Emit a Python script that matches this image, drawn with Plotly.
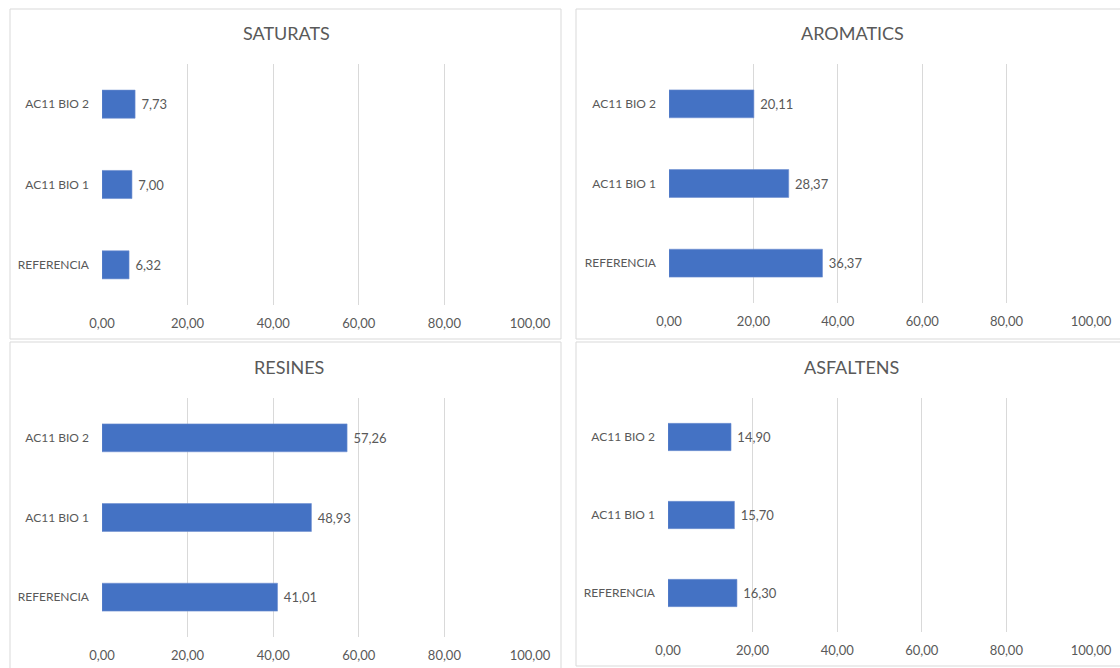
import plotly.graph_objects as go

W, H = 1120, 668

categories = ["REFERENCIA", "AC11 BIO 1", "AC11 BIO 2"]
saturats = [6.32, 7.00, 7.73]
aromatics = [36.37, 28.37, 20.11]
resines = [41.01, 48.93, 57.26]
asfaltens = [16.30, 15.70, 14.90]
tick_vals = [0, 20, 40, 60, 80, 100]

titles = ["SATURATS", "AROMATICS", "RESINES", "ASFALTENS"]
series = [saturats, aromatics, resines, asfaltens]

# pixel layout of each panel: chart frame, plot area, title position
panels = [
    dict(frame=(10, 9, 561, 339), plot=(102, 530, 64, 305), title=(286, 33)),
    dict(frame=(576, 9, 1130, 339), plot=(669, 1091, 64, 303), title=(852, 33)),
    dict(frame=(10, 342, 561, 680), plot=(102, 530, 398, 637), title=(289, 367)),
    dict(frame=(576, 342, 1130, 666), plot=(668, 1091, 398, 632), title=(851, 367)),
]

BAR = "#4472C4"
GRID = "#D9D9D9"
TXT = "#595959"
FONT = "Lato"

fig = go.Figure()
shapes, annotations = [], []

for i, (p, vals, title) in enumerate(zip(panels, series, titles)):
    n = "" if i == 0 else str(i + 1)
    x0, x1, yt, yb = p["plot"]
    fig.add_trace(go.Bar(
        x=vals, y=categories, orientation="h",
        marker=dict(color=BAR, line=dict(color="#6F8FD0", width=0.6)),
        width=0.35,
        text=vals, texttemplate=" %{x:.2f}", textposition="outside",
        textfont=dict(family=FONT, size=13, color=TXT),
        cliponaxis=False,
        xaxis="x" + n, yaxis="y" + n, showlegend=False,
    ))
    fig.layout["xaxis" + n] = dict(
        domain=[x0 / W, x1 / W], range=[0, 100], anchor="y" + n,
        tickvals=tick_vals, tickformat=".2f", showgrid=True, gridcolor=GRID,
        gridwidth=1, zeroline=False, showline=False, automargin=False,
        ticks="outside", ticklen=6, tickcolor="rgba(0,0,0,0)",
        tickfont=dict(family=FONT, size=13, color=TXT), fixedrange=True,
    )
    fig.layout["yaxis" + n] = dict(
        domain=[1 - yb / H, 1 - yt / H], range=[-0.5, 2.5], anchor="x" + n,
        type="category", showgrid=False, zeroline=False, showline=False,
        automargin=False, ticks="", ticklabelstandoff=12,
        tickfont=dict(family=FONT, size=12, color=TXT), fixedrange=True,
    )
    fx0, fy0, fx1, fy1 = p["frame"]
    shapes.append(dict(type="rect", xref="paper", yref="paper",
                       x0=fx0 / W, x1=fx1 / W, y0=1 - fy1 / H, y1=1 - fy0 / H,
                       line=dict(color=GRID, width=1), layer="below"))
    tx, ty = p["title"]
    annotations.append(dict(text=title, x=tx / W, y=1 - ty / H, xref="paper",
                            yref="paper", showarrow=False, xanchor="center",
                            yanchor="middle",
                            font=dict(family=FONT, size=18, color=TXT)))

fig.update_layout(
    width=W, height=H, margin=dict(l=0, r=0, t=0, b=0),
    paper_bgcolor="white", plot_bgcolor="white",
    separators=",.", shapes=shapes, annotations=annotations,
    bargap=0.65,
)

fig.write_html("out.html")
